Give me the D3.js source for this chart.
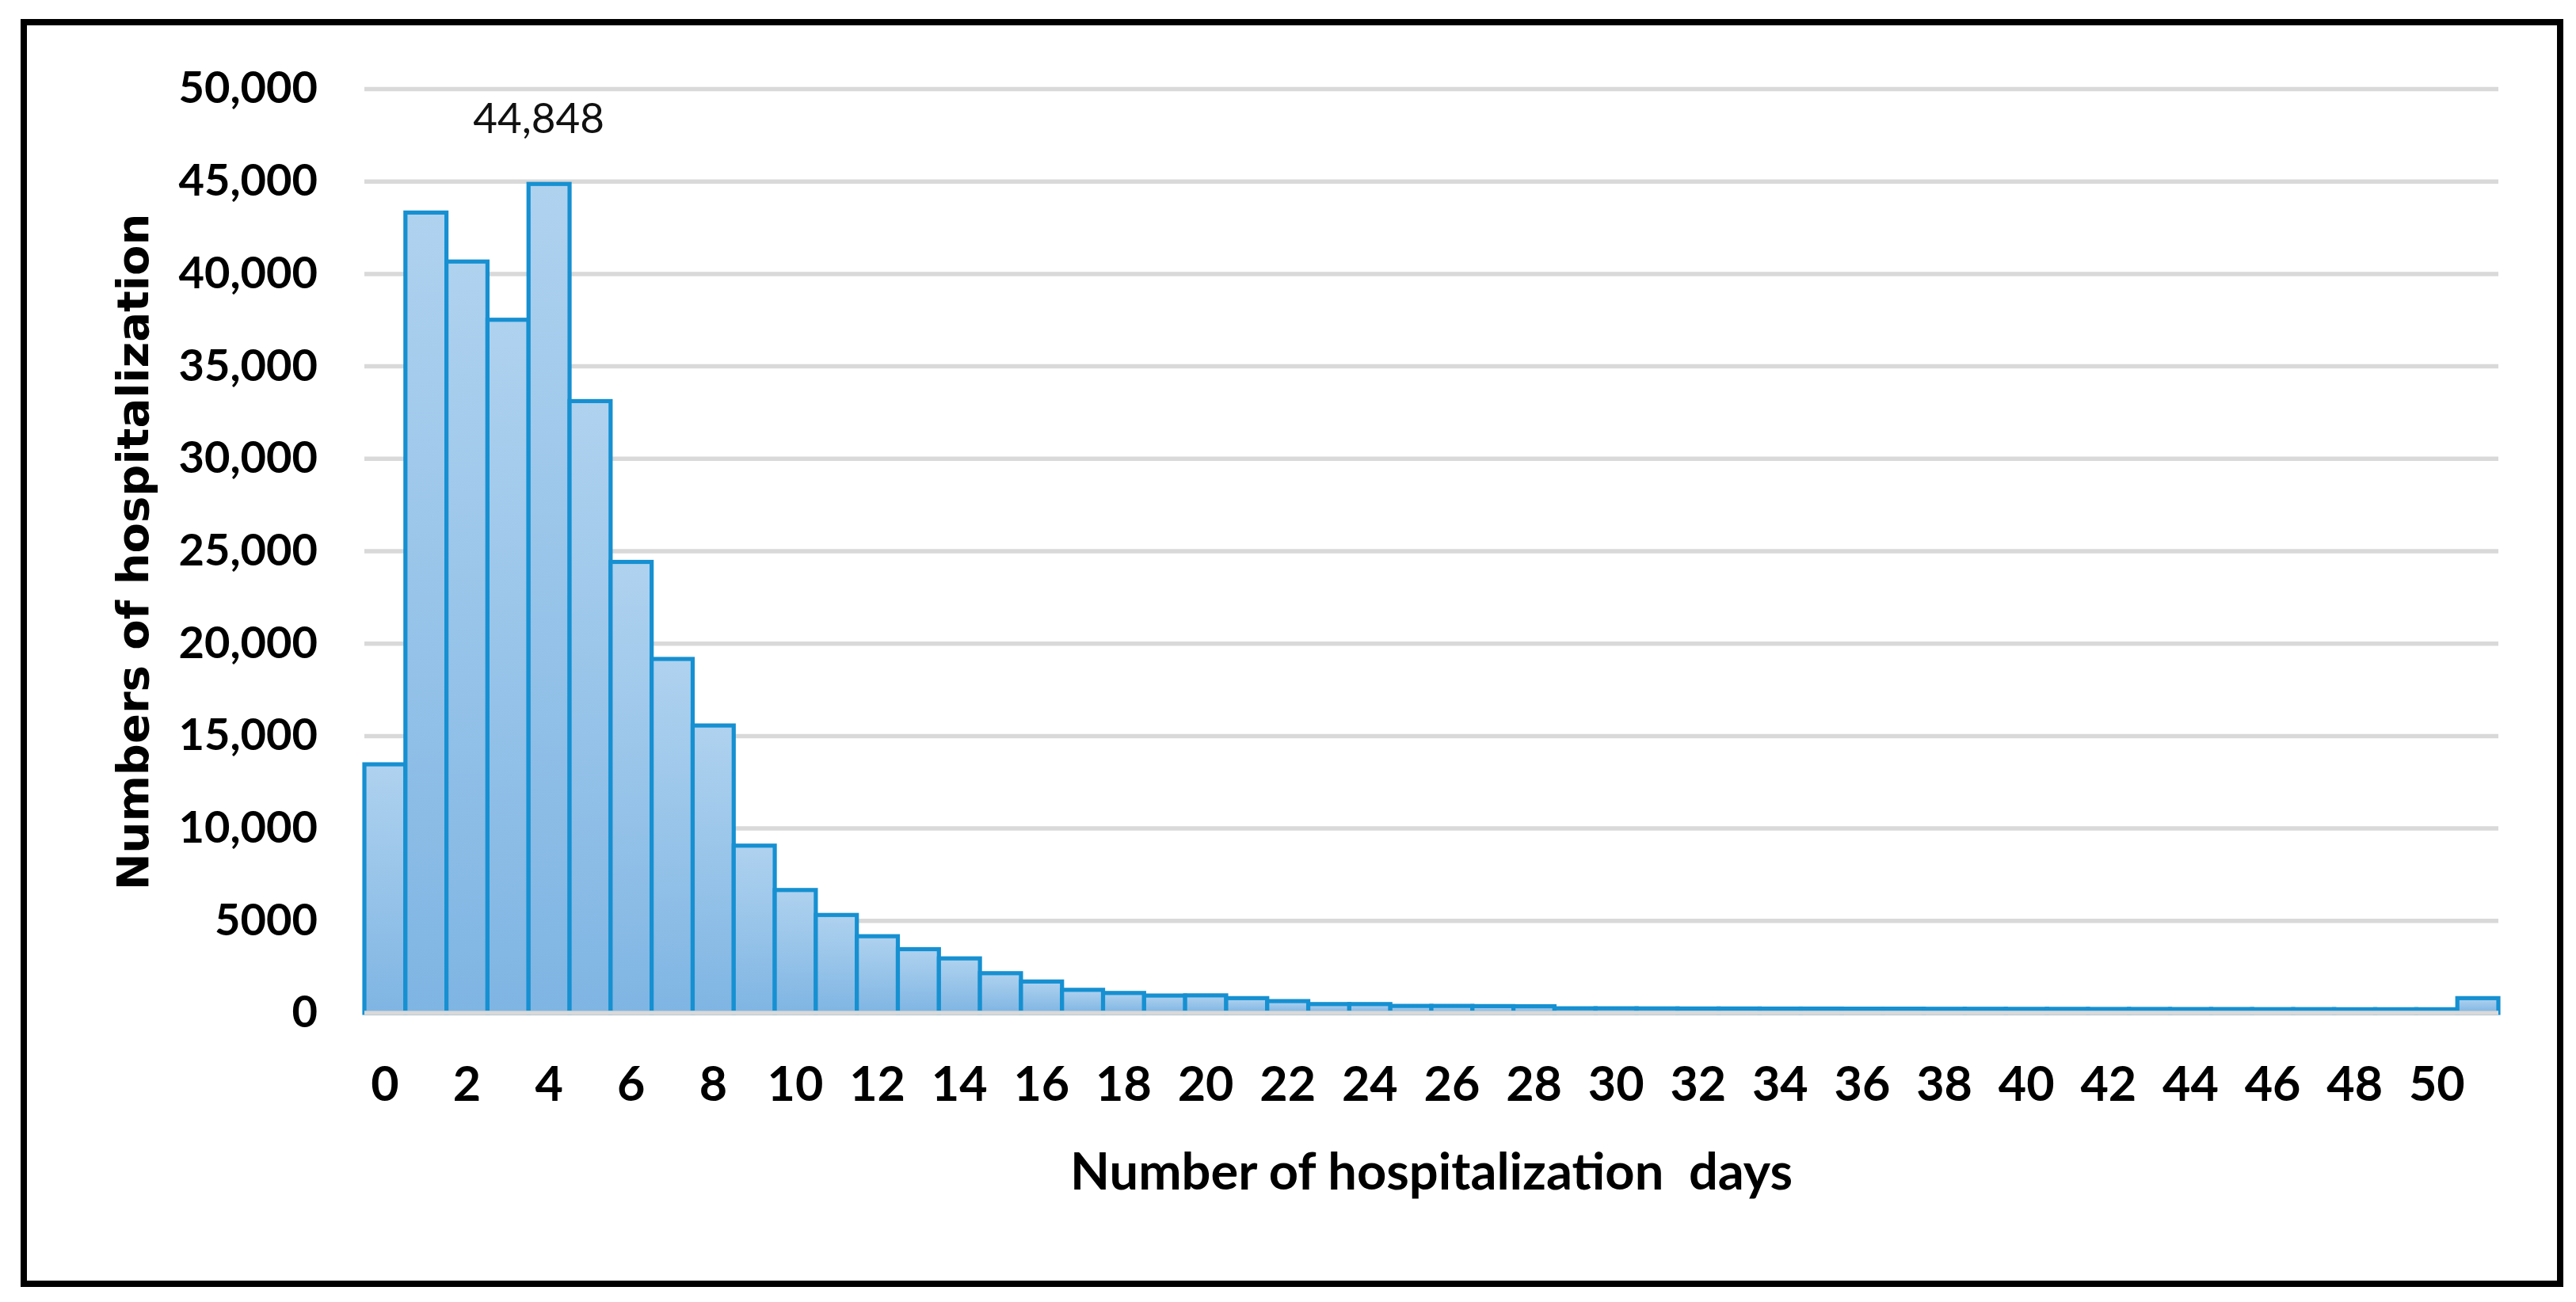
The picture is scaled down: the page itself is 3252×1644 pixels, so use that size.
<!DOCTYPE html>
<html>
<head>
<meta charset="utf-8">
<script src="https://cdn.jsdelivr.net/npm/d3@7"></script>
<style>
  body { margin: 0; background: #fff; }
  svg { display: block; }
</style>
</head>
<body>
<div id="chart"></div>
<script>
// hospitalization days (51 = 51 days and more)
const days = [0, 1, 2, 3, 4, 5, 6, 7, 8, 9, 10, 11, 12, 13, 14, 15, 16, 17, 18, 19,
    20, 21, 22, 23, 24, 25, 26, 27, 28, 29, 30, 31, 32, 33, 34, 35, 36, 37, 38, 39,
    40, 41, 42, 43, 44, 45, 46, 47, 48, 49, 50, 51];

const hospitalizations = [13450, 43300, 40650, 37500, 44848, 33100, 24400, 19150, 15550, 9050,
    6650, 5300, 4150, 3450, 2950, 2150, 1700, 1250, 1080, 940,
    950, 800, 640, 480, 480, 380, 380, 370, 360, 250,
    250, 245, 240, 240, 235, 235, 230, 230, 225, 225,
    220, 220, 215, 215, 210, 210, 205, 205, 200, 200,
    200, 800];

const yTicks = [0, 5000, 10000, 15000, 20000, 25000, 30000, 35000, 40000, 45000, 50000];
const yTickLabels = ['0', '5000', '10,000', '15,000', '20,000', '25,000', '30,000', '35,000', '40,000', '45,000', '50,000'];
const xTickDays = [0, 2, 4, 6, 8, 10, 12, 14, 16, 18, 20, 22, 24, 26, 28, 30, 32, 34, 36, 38, 40, 42, 44, 46, 48, 50];

const peakDay = 4;
const peakLabel = '44,848';

let width = 3252;
let height = 1644;
let plot = { left: 460, right: 3154, top: 112, bottom: 1279 };

let svg = d3.select('#chart').append('svg')
    .attr('width', width)
    .attr('height', height);

svg.append('rect')
    .attr('width', width).attr('height', height)
    .attr('fill', '#fff');

let defs = svg.append('defs');
let grad = defs.append('linearGradient')
    .attr('id', 'barFill')
    .attr('x1', 0).attr('y1', 0).attr('x2', 0).attr('y2', 1);
grad.append('stop').attr('offset', '0%').attr('stop-color', '#afd2ef');
grad.append('stop').attr('offset', '100%').attr('stop-color', '#7fb5e3');

let x = d3.scaleBand()
    .domain(days)
    .range([plot.left, plot.right])
    .padding(0);

let y = d3.scaleLinear()
    .domain([0, 50000])
    .range([plot.bottom, plot.top]);

// gridlines + y labels
let yAxis = svg.append('g').attr('class', 'y-axis')
    .attr('transform', `translate(${plot.left}, 0)`)
    .call(d3.axisLeft(y)
        .tickValues(yTicks)
        .tickFormat((d, i) => yTickLabels[i])
        .tickSize(-(plot.right - plot.left))
        .tickPadding(59));

yAxis.select('.domain').remove();
yAxis.selectAll('line')
    .attr('stroke', '#d9d9d9')
    .attr('stroke-width', 5.5);
yAxis.selectAll('text')
    .attr('fill', '#000')
    .attr('font-family', 'Lato, sans-serif')
    .attr('font-weight', 'bold')
    .attr('font-size', 56);

// bars
svg.append('g').selectAll('rect').data(hospitalizations).enter().append('rect')
    .attr('x', (d, i) => x(days[i]))
    .attr('y', d => y(d))
    .attr('width', x.bandwidth())
    .attr('height', d => y(0) - y(d))
    .attr('fill', 'url(#barFill)')
    .attr('stroke', '#1690d1')
    .attr('stroke-width', 5.2);

// category axis line sits over the bar bottoms
svg.append('line')
    .attr('x1', plot.left).attr('x2', plot.right)
    .attr('y1', y(0)).attr('y2', y(0))
    .attr('stroke', '#d9d9d9')
    .attr('stroke-width', 5.5);

// x axis labels
let xAxis = svg.append('g').attr('class', 'x-axis')
    .attr('transform', `translate(0, ${plot.bottom})`)
    .call(d3.axisBottom(x).tickValues(xTickDays).tickSize(0));

xAxis.select('.domain').remove();
xAxis.selectAll('text')
    .attr('dy', null)
    .attr('y', 111)
    .attr('fill', '#000')
    .attr('font-family', 'Lato, sans-serif')
    .attr('font-weight', 'bold')
    .attr('font-size', 61);

// peak data label
svg.append('text')
    .attr('x', x(peakDay) + x.bandwidth() / 2 - 13)
    .attr('y', 168)
    .attr('text-anchor', 'middle')
    .attr('font-family', 'Lato, sans-serif')
    .attr('font-size', 53)
    .attr('fill', '#111')
    .text(peakLabel);

// axis titles
svg.append('text')
    .attr('x', 1807)
    .attr('y', 1502)
    .attr('text-anchor', 'middle')
    .attr('font-family', 'Lato, sans-serif')
    .attr('font-weight', 'bold')
    .attr('font-size', 65)
    .style('white-space', 'pre')
    .text('Number of hospitalization  days');

svg.append('text')
    .attr('transform', 'translate(187, 697) rotate(-90)')
    .attr('text-anchor', 'middle')
    .attr('font-family', '"DejaVu Sans", sans-serif')
    .attr('font-weight', 'bold')
    .attr('font-size', 56)
    .attr('fill', '#000')
    .text('Numbers of hospitalization');

// outer frame
svg.append('rect')
    .attr('x', 30).attr('y', 28)
    .attr('width', 3202).attr('height', 1593)
    .attr('fill', 'none')
    .attr('stroke', '#000')
    .attr('stroke-width', 8);
</script>
</body>
</html>
